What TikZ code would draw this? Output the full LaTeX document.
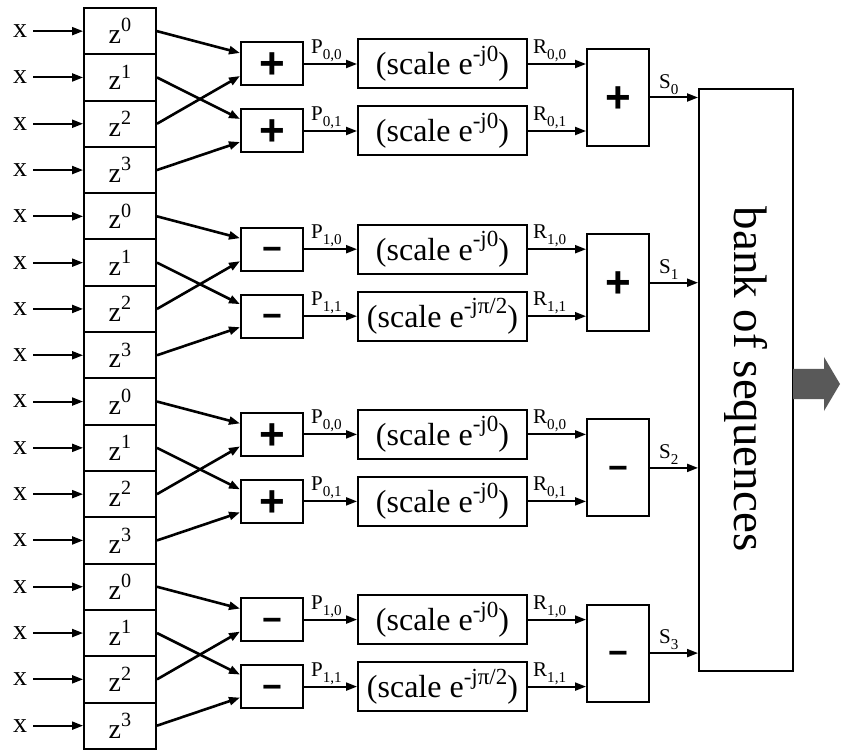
\documentclass[tikz,border=0pt]{standalone}
\usepackage{fontspec}
\setmainfont{Liberation Serif}
\newfontfamily\opfont{Liberation Sans}
\usetikzlibrary{arrows.meta,calc}
\newcommand\mysup[1]{\raisebox{0.42em}{\scalebox{0.72}{#1}}}
\newcommand\mysub[1]{\raisebox{-0.28em}{\scalebox{0.72}{#1}}}
\newcommand\opplus{{\opfont\bfseries\fontsize{44}{44}\selectfont\rule{0pt}{30pt}\smash{+}}}
\newcommand\opminus{{\opfont\bfseries\fontsize{34}{34}\selectfont\rule{0pt}{23.2pt}\smash{−}}}
\newcommand\phzero{0}
\newcommand\phhalf{π/2}
\tikzset{
  box/.style={draw, line width=2pt, inner sep=0pt},
  zbox/.style={box, minimum width=72pt, minimum height=46.3pt, font=\fontsize{28}{30}\selectfont},
  xlab/.style={inner xsep=6pt, inner ysep=0pt, font=\fontsize{28}{30}\selectfont},
  addbox/.style={box, minimum width=62pt, minimum height=43pt},
  sbox/.style={box, minimum width=169pt, minimum height=49pt, font=\fontsize{32}{34}\selectfont},
  fbox/.style={box, minimum width=62pt, minimum height=97pt},
  arr/.style={line width=2pt, -{Triangle[length=11pt,width=8pt]}},
  wire/.style={line width=2.6pt, -{Triangle[length=11pt,width=8pt]}},
  lab/.style={font=\fontsize{21}{22}\selectfont, inner sep=0pt, anchor=south west},
}
\begin{document}
\begin{tikzpicture}[x=1pt,y=-1pt]
\useasboundingbox (0,0) rectangle (841,751);
% bank of sequences
\node[box, minimum width=94pt, minimum height=582pt] (bank) at (746,380) {};
\node[rotate=-90, font=\fontsize{47}{50}\selectfont, inner sep=0pt] (banktxt) at (746,379) {bank of sequences};
\fill[black!65] (793,369) -- (824,369) -- (824,357) -- (840,384) -- (824,411) -- (824,399) -- (793,399) -- cycle;
% delay rows
\foreach \i in {0,...,15} {
  \pgfmathsetmacro\yy{8+46.3*(\i+0.5)}
  \pgfmathtruncatemacro\k{mod(\i,4)}
  \node[zbox] (z\i) at (120,\yy) {z\mysup{\k}};
  \node[xlab] (x\i) at (20,\yy) {x};
  \draw[arr] (x\i) -- (z\i);
}
% groups
\foreach \g/\k/\opa/\opf/\ph in {0/0/\opplus/\opplus/\phzero, 1/1/\opminus/\opplus/\phhalf, 2/0/\opplus/\opminus/\phzero, 3/1/\opminus/\opminus/\phhalf} {
  \pgfmathsetmacro\ya{64+185.2*\g}
  \pgfmathsetmacro\yb{131+185.2*\g}
  \pgfmathsetmacro\yf{97.5+185.2*\g}
  \pgfmathtruncatemacro\ra{4*\g}
  \pgfmathtruncatemacro\rb{4*\g+1}
  \pgfmathtruncatemacro\rc{4*\g+2}
  \pgfmathtruncatemacro\rd{4*\g+3}
  \node[addbox] (a\g) at (272,\ya) {\opa};
  \node[addbox] (b\g) at (272,\yb) {\opa};
  \node[sbox] (sa\g) at (442.5,\ya) {(scale e\mysup{-j0})};
  \node[sbox] (sb\g) at (442.5,\yb) {(scale e\mysup{-j\ph})};
  \node[fbox] (f\g) at (618,\yf) {\opf};
  \draw[wire] (z\ra.east) -- ($(a\g.west)+(0,-11)$);
  \draw[wire] (z\rc.east) -- ($(a\g.west)+(0,12)$);
  \draw[wire] (z\rb.east) -- ($(b\g.west)+(0,-12)$);
  \draw[wire] (z\rd.east) -- ($(b\g.west)+(0,11)$);
  \draw[arr] (a\g) -- (sa\g);
  \draw[arr] (b\g) -- (sb\g);
  \draw[arr] (sa\g.east) -- (sa\g.east -| f\g.west);
  \draw[arr] (sb\g.east) -- (sb\g.east -| f\g.west);
  \draw[arr] (f\g.east) -- (f\g.east -| bank.west);
  \node[lab] (pa\g) at ($(a\g.east)+(7,-2)$) {P\mysub{\k,0}};
  \node[lab] (pb\g) at ($(b\g.east)+(7,-2)$) {P\mysub{\k,1}};
  \node[lab] (ra\g) at ($(sa\g.east)+(5,-2)$) {R\mysub{\k,0}};
  \node[lab] (rb\g) at ($(sb\g.east)+(5,-2)$) {R\mysub{\k,1}};
  \node[lab] (s\g) at ($(f\g.east)+(9,-3)$) {S\mysub{\g}};
}
\end{tikzpicture}
\end{document}
